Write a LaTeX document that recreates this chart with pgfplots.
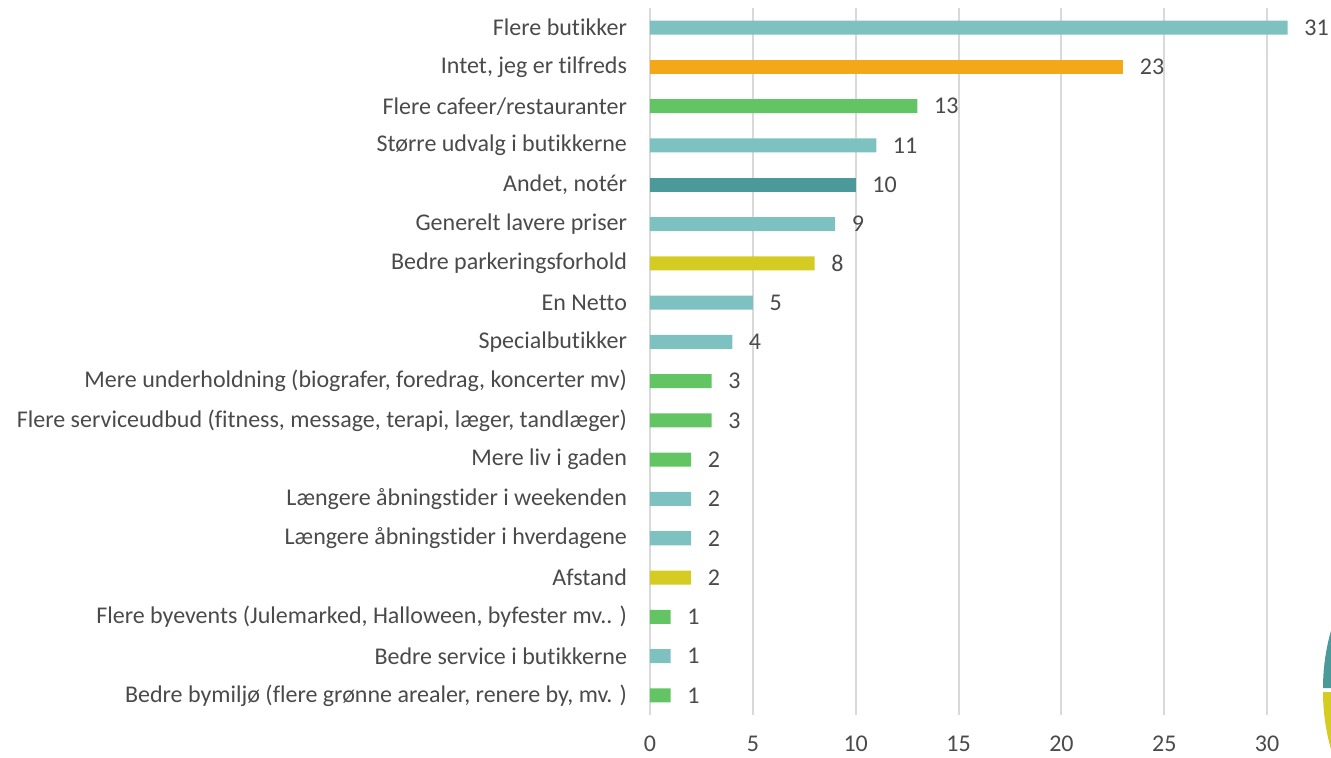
\documentclass[border=0pt]{standalone}
\usepackage{pgfplots}
\pgfplotsset{compat=1.18}
\usepackage{fontspec}
\setmainfont{Carlito}[Ligatures={NoCommon}]
\definecolor{lteal}{HTML}{7DC1C1}
\definecolor{dteal}{HTML}{4C9999}
\definecolor{orng}{HTML}{F2A818}
\definecolor{grn}{HTML}{62C462}
\definecolor{ylw}{HTML}{D4CC22}
\definecolor{txt}{HTML}{4A4A4A}
\definecolor{grd}{HTML}{D9D9D9}
\begin{document}
\begin{tikzpicture}[x=0.75pt,y=0.75pt]
\useasboundingbox (-650,-42) rectangle (681,715);
\begin{scope}
\clip (-650,-42) rectangle (681,715);
\fill[dteal] (883,27) -- ++(180:210) arc[start angle=180,end angle=154,radius=210] -- cycle;
\fill[ylw] (883,23) -- ++(180:210) arc[start angle=180,end angle=230,radius=210] -- cycle;
\end{scope}
\begin{axis}[
  at={(0,0)}, anchor=south west,
  scale only axis, width=486pt, height=530.25pt,
  xbar, bar width=10.5pt, bar shift=0pt,
  xmin=0, xmax=31.5, ymin=-0.5, ymax=17.5,
  xtick={0,5,...,30},
  ytick={0,...,17},
  yticklabels={{Bedre bymiljø (flere grønne arealer, renere by, mv. )},
    {Bedre service i butikkerne},
    {Flere byevents (Julemarked, Halloween, byfester mv.. )},
    {Afstand},
    {Længere åbningstider i hverdagene},
    {Længere åbningstider i weekenden},
    {Mere liv i gaden },
    {Flere serviceudbud (fitness, message, terapi, læger, tandlæger)},
    {Mere underholdning (biografer, foredrag, koncerter mv)},
    {Specialbutikker},
    {En Netto},
    {Bedre parkeringsforhold},
    {Generelt lavere priser},
    {Andet, notér},
    {Større udvalg i butikkerne},
    {Flere cafeer/restauranter},
    {Intet, jeg er tilfreds},
    {Flere butikker}},
  xmajorgrids, grid style={grd, line width=1.5pt},
  axis line style={draw=none}, tick style={draw=none},
  ticklabel style={font=\fontsize{18}{21}\selectfont, text=txt},
  yticklabel style={xshift=-9.5pt},
  xticklabel style={yshift=-12pt},
  nodes near coords,
  nodes near coords style={font=\fontsize{18}{21}\selectfont, text=txt, anchor=west, xshift=9pt},
  /pgf/number format/assume math mode=true,
]
\addplot[fill=lteal, draw=none] coordinates {(31,17) (11,14) (9,12) (5,10) (4,9) (2,5) (2,4) (1,1)};
\addplot[fill=orng, draw=none] coordinates {(23,16)};
\addplot[fill=grn, draw=none] coordinates {(13,15) (3,8) (3,7) (2,6) (1,2) (1,0)};
\addplot[fill=dteal, draw=none] coordinates {(10,13)};
\addplot[fill=ylw, draw=none] coordinates {(8,11) (2,3)};
\end{axis}
\end{tikzpicture}
\end{document}
